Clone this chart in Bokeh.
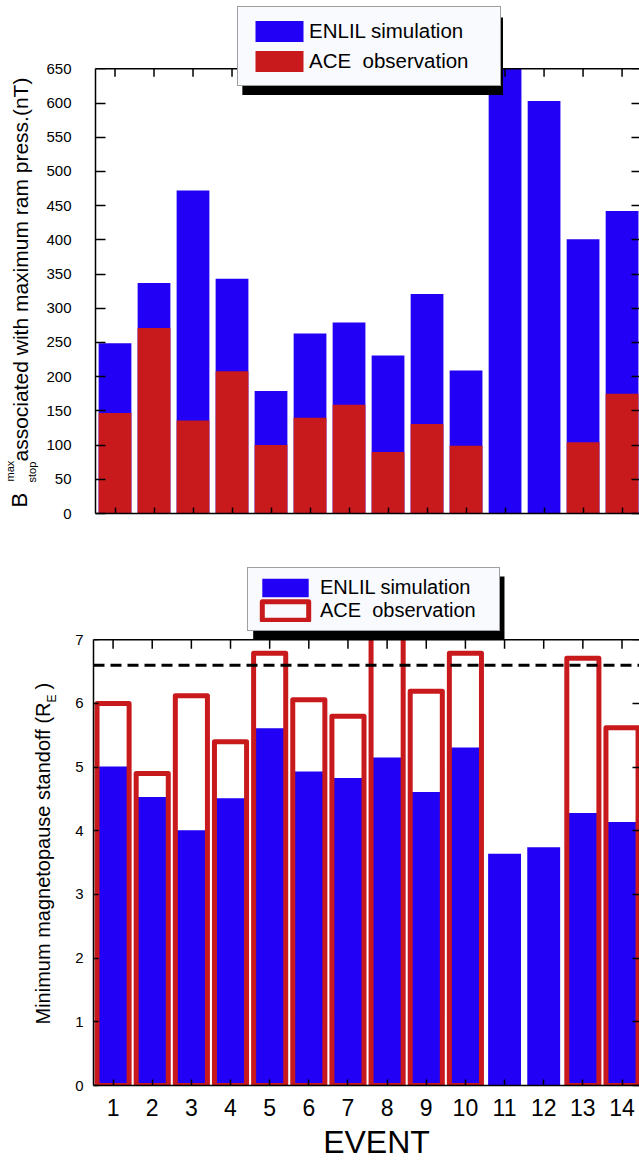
import math
from bokeh.plotting import figure
from bokeh.models import (Legend, LegendItem, Label, BoxAnnotation, Span,
                          LinearAxis, FixedTicker, Range1d)
from bokeh.layouts import column, row
from bokeh.embed import file_html
from bokeh.resources import INLINE

# ---------------- data ----------------
events = list(range(1, 15))
enlil_bstop = [249, 337, 472, 343, 179, 263, 279, 231, 321, 209, 660, 603, 401, 442]
ace_bstop = [147, 271, 136, 208, 100, 140, 159, 90, 131, 99, float("nan"), float("nan"), 104, 175]
enlil_standoff = [5.01, 4.53, 4.01, 4.51, 5.61, 4.93, 4.83, 5.15, 4.61, 5.31, 3.64, 3.74, 4.28, 4.14]
ace_standoff = [6.00, 4.90, 6.12, 5.40, 6.79, 6.06, 5.80, 7.40, 6.19, 6.79, float("nan"), float("nan"), 6.71, 5.62]
geosync_orbit = 6.6
bstop_max = 650
standoff_max = 7
bstop_ticks = list(range(0, bstop_max + 1, 50))
standoff_ticks = list(range(0, standoff_max + 1))

BLUE = "#2200f5"
RED = "#c8191d"
FONT = "Liberation Sans"
XR = (0.5, 14.447)

# frame geometry (px)
H1, B1 = 556, 43          # top figure height, bottom border
H2, B2 = 568, 39          # bottom figure height, bottom border
HS = 36                   # height of the strip holding the x title
F1 = H1 - B1              # frame heights
F2 = H2 - B2
K1 = (F1 - 68.3) / bstop_max        # px per nT
Y1TOP = F1 / K1
K2 = (F2 - 83.3) / standoff_max     # px per R_E
Y2TOP = F2 / K2


def base_fig(width, height, yr, left, bottom):
    p = figure(width=width, height=height, x_range=Range1d(*XR), y_range=Range1d(*yr),
               output_backend="svg", toolbar_location=None,
               min_border_left=left, min_border_right=0,
               min_border_top=0, min_border_bottom=bottom)
    p.xgrid.visible = False
    p.ygrid.visible = False
    p.outline_line_color = None
    p.background_fill_color = "white"
    p.border_fill_color = "white"
    return p


def strip_fig(width, height, bottom=0):
    s = figure(width=width, height=height, x_range=Range1d(0, width),
               y_range=Range1d(0, height - bottom),
               output_backend="svg", toolbar_location=None,
               min_border_left=0, min_border_right=0, min_border_top=0,
               min_border_bottom=bottom,
               x_axis_location=None, y_axis_location=None)
    s.grid.visible = False
    s.outline_line_color = None
    s.background_fill_color = "white"
    s.border_fill_color = "white"
    return s


def style_axis(ax, ticks, tick_in, label_size=None, standoff=0, line=True, bounds=None):
    ax.ticker = FixedTicker(ticks=ticks)
    ax.major_tick_in = tick_in
    ax.major_tick_out = 0
    ax.minor_tick_line_color = None
    ax.major_tick_line_width = 1.5
    ax.major_tick_line_color = "black"
    ax.axis_line_width = 1.5
    ax.axis_line_color = "black" if line else None
    if bounds is not None:
        ax.bounds = bounds
    ax.major_label_text_font = FONT
    ax.major_label_standoff = standoff
    if label_size is None:
        ax.major_label_text_font_size = "1px"
        ax.major_label_text_color = None
    else:
        ax.major_label_text_font_size = label_size
        ax.major_label_text_color = "black"


def add_text(fig, txt, x, y, size, align="left", angle=math.pi / 2, y_offset=0):
    fig.add_layout(Label(x=x, y=y, text=txt, angle=angle, text_align=align,
                         text_baseline="bottom", y_offset=y_offset,
                         text_font=FONT, text_font_size=size, text_color="black"))


# ---------------- top panel ----------------
p1 = base_fig(596, H1, (0, Y1TOP), 50, B1)
r1 = p1.vbar(x=events, top=enlil_bstop, width=0.84, fill_color=BLUE, line_color=None)
r2 = p1.vbar(x=events, top=ace_bstop, width=0.84, fill_color=RED, line_color=None)
p1.segment(x0=events, x1=events, y0=[bstop_max] * len(events),
           y1=[bstop_max - 8 / K1] * len(events), line_color="black", line_width=1.5)

style_axis(p1.xaxis[0], events, 6)
style_axis(p1.yaxis[0], bstop_ticks, 10, "15px", 24, bounds=(0, bstop_max))
ax_right1 = LinearAxis()
style_axis(ax_right1, bstop_ticks, 8, line=False, bounds=(0, bstop_max))
p1.add_layout(ax_right1, "right")

p1.add_layout(BoxAnnotation(left=XR[0], right=XR[1], bottom=bstop_max, top=Y1TOP + 50,
                            fill_color="white", fill_alpha=1, line_color=None))
p1.add_layout(Span(location=bstop_max, dimension="width", line_color="black", line_width=1.5))
p1.add_layout(BoxAnnotation(left=4.265, right=10.947, top=725, bottom=611.7,
                            fill_color="black", fill_alpha=1, line_color=None))
leg1 = Legend(items=[LegendItem(label="ENLIL simulation", renderers=[r1]),
                     LegendItem(label="ACE  observation", renderers=[r2])],
              location=(142, 427), orientation="vertical",
              glyph_width=60, glyph_height=26, label_height=26, label_width=180,
              label_standoff=0, padding=11, spacing=4, margin=0,
              border_line_color="#444444", border_line_width=1,
              background_fill_color="#f9fafe", background_fill_alpha=1,
              label_text_font=FONT, label_text_font_size="20.5px", label_text_color="black")
p1.add_layout(leg1)

# y-axis title of the top panel (frame-aligned strip, y = F1 - page_y)
lab1 = strip_fig(43, H1, B1)
add_text(lab1, "B", 31.5, F1 - 507, "22px")
add_text(lab1, "max", 15.3, F1 - 481, "11px")
add_text(lab1, "stop", 37.3, F1 - 482, "11px")
add_text(lab1, "associated with maximum ram press.(nT)", 31.5, F1 - 461, "21px")

# ---------------- bottom panel ----------------
p2 = base_fig(579, H2, (0, Y2TOP), 33, B2)
r3 = p2.vbar(x=events, top=enlil_standoff, width=0.84, fill_color=BLUE, line_color=None)
r4 = p2.vbar(x=events, top=ace_standoff, width=0.82, fill_color=None, line_color=RED,
             line_width=5, line_join="round")
p2.segment(x0=events, x1=events, y0=[standoff_max] * len(events),
           y1=[standoff_max - 9 / K2] * len(events), line_color="black", line_width=1.5)

style_axis(p2.xaxis[0], events, 6, "23px", 13)
style_axis(p2.yaxis[0], standoff_ticks, 5, "15px", 10, bounds=(0, standoff_max))
ax_right2 = LinearAxis()
style_axis(ax_right2, standoff_ticks, 7, line=False, bounds=(0, standoff_max))
p2.add_layout(ax_right2, "right")

p2.add_layout(BoxAnnotation(left=XR[0], right=XR[1], bottom=standoff_max, top=Y2TOP + 1,
                            fill_color="white", fill_alpha=1, line_color=None))
p2.add_layout(Span(location=geosync_orbit, dimension="width", line_color="black",
                   line_width=3, line_dash="11 6"))
p2.add_layout(Span(location=standoff_max, dimension="width", line_color="black", line_width=1.5))
p2.add_layout(BoxAnnotation(left=4.579, right=10.998, top=7.994, bottom=7.0,
                            fill_color="black", fill_alpha=1, line_color=None))
leg2 = Legend(items=[LegendItem(label="ENLIL simulation", renderers=[r3]),
                     LegendItem(label="ACE  observation", renderers=[r4])],
              location=(154, 454), orientation="vertical",
              glyph_width=58, glyph_height=23, label_height=23, label_width=171,
              label_standoff=6, padding=8, spacing=0, margin=0,
              border_line_color="#444444", border_line_width=1,
              background_fill_color="#f9fafe", background_fill_alpha=1,
              label_text_font=FONT, label_text_font_size="20px", label_text_color="black")
p2.add_layout(leg2)

# y-axis title of the bottom panel (frame-aligned strip, y = 1085 - page_y)
lab2 = strip_fig(60, H2, B2)
add_text(lab2, "Minimum magnetopause standoff (R", 53.2, 1085 - 702, "20px", align="right")
add_text(lab2, "E", 58.5, 1085 - 702, "12px")
add_text(lab2, ")", 53.2, 1085 - 689, "20px")

strip = strip_fig(639, HS)
add_text(strip, "EVENT", 376, 0.3, "32px", align="center", angle=0)

layout = column(row(lab1, p1), row(lab2, p2), strip)
open("out.html", "w").write(file_html(layout, INLINE))
